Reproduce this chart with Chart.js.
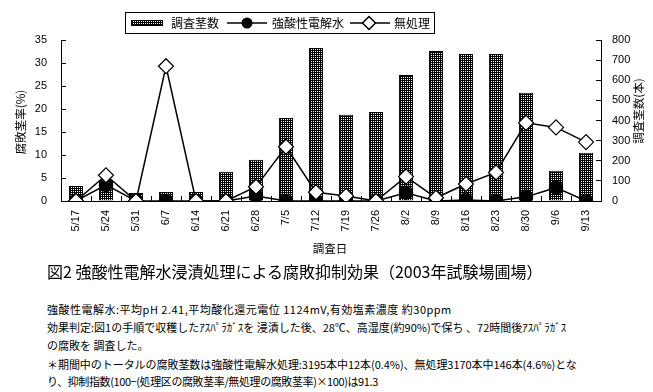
<!DOCTYPE html>
<html>
<head>
<meta charset="utf-8">
<script src="https://cdn.jsdelivr.net/npm/chart.js@4.4.0/dist/chart.umd.min.js"></script>
<style>
body { margin: 0; background: #fff; width: 653px; height: 392px; overflow: hidden; position: relative; font-family: "Noto Sans CJK JP", sans-serif; color: #000; }
#wrap { position: absolute; left: 0; top: 0; width: 653px; height: 262px; }
.cap { position: absolute; left: 47px; white-space: nowrap; font-size: 11px; line-height: 14px; }
</style>
</head>
<body>
<div id="wrap"><canvas id="fig2" width="653" height="262"></canvas></div>
<div class="cap" style="top:262px;font-size:16px;line-height:19px">図2 強酸性電解水浸漬処理による腐敗抑制効果（2003年試験場圃場）</div>
<div class="cap" style="top:302px;letter-spacing:0.5px">強酸性電解水:平均pH 2.41,平均酸化還元電位 1124mV,有効塩素濃度 約30ppm</div>
<div class="cap" style="top:320px">効果判定:図1の手順で収穫したｱｽﾊﾟﾗｶﾞｽを 浸漬した後、28℃、高湿度(約90%)で保ち 、72時間後ｱｽﾊﾟﾗｶﾞｽ</div>
<div class="cap" style="top:338px">の腐敗を 調査した。</div>
<div class="cap" style="top:357px;letter-spacing:-0.05px">＊期間中のトータルの腐敗茎数は強酸性電解水処理:3195本中12本(0.4%)、無処理3170本中146本(4.6%)とな</div>
<div class="cap" style="top:374px;letter-spacing:-0.4px">り、抑制指数(100−(処理区の腐敗茎率/無処理の腐敗茎率)×100)は91.3</div>
<script>
// survey dates
const dates = ['5/17', '5/24', '5/31', '6/7', '6/14', '6/21', '6/28', '7/5', '7/12',
  '7/19', '7/26', '8/2', '8/9', '8/16', '8/23', '8/30', '9/6', '9/13'];
// 調査茎数 (right axis, stems)
const stemCounts = [75, 100, 40, 45, 45, 145, 205, 412, 760, 428, 442, 626, 745, 730, 730, 538, 150, 240];
// 腐敗茎率 (%) - 強酸性電解水
const acidWaterRate = [0, 3.5, 0, 0, 0, 0, 1.1, 0, 0, 0, 0, 1.8, 0, 0.2, 0, 0.9, 2.9, 0];
// 腐敗茎率 (%) - 無処理
const untreatedRate = [0, 5.6, 0, 29.3, 0, 0, 3.1, 11.8, 1.9, 1.1, 0, 5.3, 0.7, 3.7, 6.2, 17, 16, 12.8];

const leftMax = 35, leftStep = 5;
const rightMax = 800, rightStep = 100;

Chart.defaults.color = '#000';
Chart.defaults.font.family = '"Liberation Sans", Arial, sans-serif';

// dense grid fill used for the bars
function gridPattern(ctx) {
  const c = document.createElement('canvas');
  c.width = 2; c.height = 2;
  const g = c.getContext('2d');
  g.fillStyle = '#000';
  g.fillRect(0, 0, 2, 2);
  g.fillStyle = '#fff';
  g.fillRect(1, 1, 1, 1);
  return ctx.createPattern(c, 'repeat');
}

const ctx = document.getElementById('fig2').getContext('2d');
const barFill = gridPattern(ctx);
const jp = '"Noto Sans CJK JP", sans-serif';

// legend box and axis titles
const extras = {
  id: 'extras',
  afterDraw(chart) {
    const g = chart.ctx;
    g.save();
    g.fillStyle = '#fff';
    g.fillRect(125.5, 12.5, 309, 21);
    g.strokeStyle = '#000';
    g.lineWidth = 1;
    g.strokeRect(125.5, 12.5, 309, 21);
    const cy = 23;
    g.fillStyle = barFill;
    g.fillRect(131, cy - 3, 32, 6);
    g.strokeRect(131.5, cy - 2.5, 31, 5);

    g.lineWidth = 1.5;
    g.beginPath(); g.moveTo(227, cy); g.lineTo(267, cy); g.stroke();
    g.fillStyle = '#000';
    g.beginPath(); g.arc(247, cy, 5.5, 0, Math.PI * 2); g.fill();

    g.beginPath(); g.moveTo(350, cy); g.lineTo(390, cy); g.stroke();
    g.beginPath();
    g.moveTo(369 - 6.5, cy); g.lineTo(369, cy - 6.5); g.lineTo(369 + 6.5, cy); g.lineTo(369, cy + 6.5);
    g.closePath();
    g.fillStyle = '#fff'; g.fill(); g.stroke();

    g.fillStyle = '#000';
    g.font = '12px ' + jp;
    g.textBaseline = 'middle';
    g.textAlign = 'left';
    g.fillText('調査茎数', 171, cy);
    g.fillText('強酸性電解水', 272, cy);
    g.fillText('無処理', 394, cy);

    // axis titles
    g.font = '11.5px ' + jp;
    g.textAlign = 'center';
    g.fillText('調査日', 330, 249);
    g.save();
    g.translate(21, 122);
    g.rotate(-Math.PI / 2);
    g.fillText('腐敗茎率(%)', 0, 0);
    g.restore();
    g.save();
    g.translate(639, 111);
    g.rotate(-Math.PI / 2);
    g.fillText('調査茎数(本)', 0, 0);
    g.restore();
    g.restore();
  }
};

const chart = new Chart(ctx, {
  type: 'bar',
  data: {
    labels: dates,
    datasets: [
      {
        type: 'line',
        label: '無処理',
        data: untreatedRate,
        yAxisID: 'y',
        borderColor: '#000',
        borderWidth: 1.5,
        backgroundColor: '#fff',
        pointStyle: 'rectRot',
        pointRadius: 7.5,
        pointBorderWidth: 1.2,
        pointBackgroundColor: '#fff',
        pointBorderColor: '#000',
        tension: 0,
        order: 0
      },
      {
        type: 'line',
        label: '強酸性電解水',
        data: acidWaterRate,
        yAxisID: 'y',
        borderColor: '#000',
        borderWidth: 1.5,
        backgroundColor: '#000',
        pointStyle: 'circle',
        pointRadius: 6.5,
        pointBackgroundColor: '#000',
        pointBorderColor: '#000',
        tension: 0,
        order: 1
      },
      {
        type: 'bar',
        label: '調査茎数',
        data: stemCounts,
        yAxisID: 'y1',
        backgroundColor: barFill,
        borderColor: '#000',
        borderWidth: 1,
        barPercentage: 0.47,
        categoryPercentage: 1,
        order: 2
      }
    ]
  },
  options: {
    responsive: false,
    animation: false,
    layout: { padding: { top: 40, left: 0, right: 0, bottom: 0 } },
    plugins: {
      legend: { display: false },
      tooltip: { enabled: false }
    },
    scales: {
      x: {
        offset: true,
        grid: { offset: true, drawOnChartArea: false, tickLength: -5, color: '#000', lineWidth: 1 },
        border: { color: '#000', width: 1 },
        ticks: { minRotation: 90, maxRotation: 90, padding: 14, font: { size: 11 } },
        afterFit: s => { s.height = 61; }
      },
      y: {
        position: 'left',
        min: 0,
        max: leftMax,
        grid: { drawOnChartArea: false, tickLength: -5, color: '#000' },
        border: { color: '#000', width: 1 },
        ticks: { stepSize: leftStep, padding: 19, font: { size: 11 } },
        afterFit: s => { s.width = 61; }
      },
      y1: {
        position: 'right',
        min: 0,
        max: rightMax,
        grid: { drawOnChartArea: false, tickLength: -5, color: '#000' },
        border: { color: '#000', width: 1 },
        ticks: { stepSize: rightStep, padding: 16, font: { size: 11 } },
        afterFit: s => { s.width = 52; }
      }
    }
  },
  plugins: [extras]
});
</script>
</body>
</html>
